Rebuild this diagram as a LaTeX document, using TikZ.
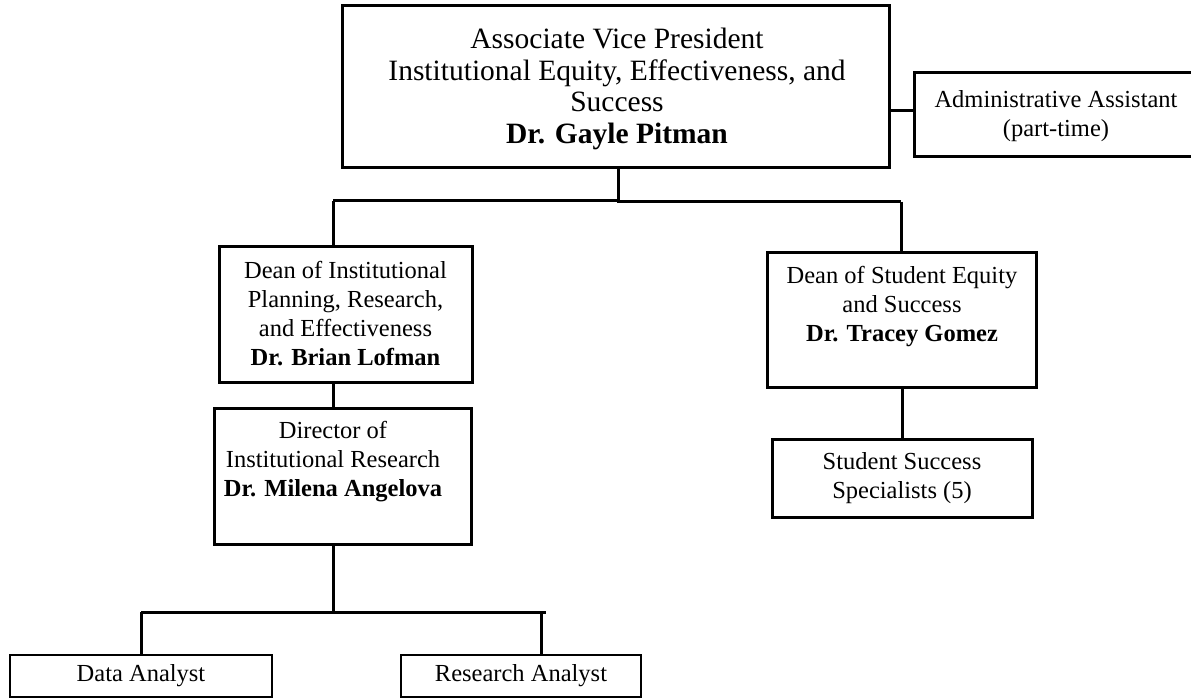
\documentclass[tikz,border=0pt]{standalone}
\usepackage{fontspec}
\setmainfont{Liberation Serif}
\begin{document}
\begin{tikzpicture}[x=1pt,y=-1pt,
  box/.style={draw=black, line width=3pt, rectangle, inner sep=0pt, align=center},
  thinbox/.style={draw=black, line width=2.4pt, rectangle, inner sep=0pt, align=center},
  big/.style={font=\fontsize{29.5}{31.5}\selectfont},
  mid/.style={font=\fontsize{24.5}{29}\selectfont},
  txt/.style={inner sep=0pt, align=center},
  link/.style={draw=black, line width=3pt}]
\useasboundingbox (0,0) rectangle (1191,699);

% top of the chart
\node[box, minimum width=547pt, minimum height=162pt] (avp) at (615.5,86) {};
\node[txt, big] (avptxt) at (617,89)
  {Associate Vice President\\Institutional Equity, Effectiveness, and\\Success\\\textbf{Dr. Gayle Pitman}};
\node[box, minimum width=279pt, minimum height=84pt] (aa) at (1053.5,114) {};
\node[txt, mid] (aatxt) at (1056,116) {Administrative Assistant\\(part-time)};

% deans
\node[box, mid, minimum width=253pt, minimum height=136pt] (dipre) at (345.5,314)
  {Dean of Institutional\\Planning, Research,\\and Effectiveness\\\textbf{Dr. Brian Lofman}};
\node[box, minimum width=269pt, minimum height=135pt] (dses) at (901.5,319.5) {};
\node[txt, mid] (dsestxt) at (902,307)
  {Dean of Student Equity\\and Success\\\textbf{Dr. Tracey Gomez}};

% director and staff
\node[box, minimum width=257pt, minimum height=136pt] (dir) at (342.5,476) {};
\node[txt, mid] (dirtxt) at (333,462)
  {Director of\\Institutional Research\\\textbf{Dr. Milena Angelova}};
\node[box, mid, minimum width=260pt, minimum height=78pt] (sss) at (902,478)
  {Student Success\\Specialists (5)};
\node[thinbox, mid, minimum width=262pt, minimum height=42pt] (da) at (141,676)
  {Data Analyst};
\node[thinbox, mid, minimum width=240pt, minimum height=42pt] (ra) at (521,676)
  {Research Analyst};

% junction points
\coordinate (j0) at (618,200.5);
\coordinate (jl) at (333,200.5);
\coordinate (jr) at (901,201.5);
\coordinate (k0) at (333,612);
\coordinate (kl) at (141,612);
\coordinate (kr) at (541,612);
\coordinate (kre) at (546,612);

% connectors
\draw[link] (avp.east |- 0,110) -- (aa.west |- 0,110);
\draw[link] (j0 |- avp.south) -- (j0);
\draw[link] (jl) -- (j0);
\draw[link] (j0) -- (618,201.5) -- (jr);
\draw[link] (jl) -- (jl |- dipre.north);
\draw[link] (jr) -- (jr |- dses.north);
\draw[link] (333,0 |- dipre.south) -- (333,0 |- dir.north);
\draw[link] (902,0 |- dses.south) -- (902,0 |- sss.north);
\draw[link] (k0 |- dir.south) -- (k0);
\draw[link] (kl) -- (kre);
\draw[link] (kl) -- (kl |- da.north);
\draw[link] (kr) -- (kr |- ra.north);
\end{tikzpicture}
\end{document}
